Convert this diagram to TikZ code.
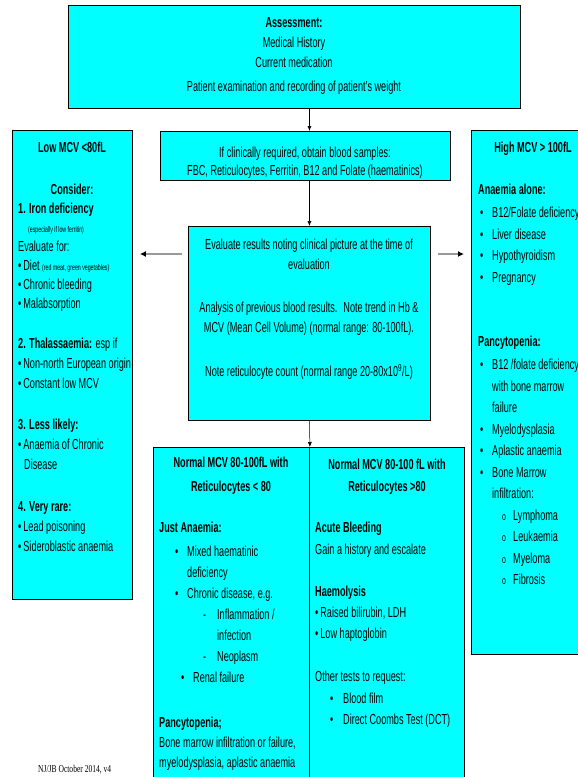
\documentclass[tikz,border=0pt]{standalone}
\usepackage{fontspec}
\setmainfont{Liberation Sans}[FakeStretch=0.63]
\newfontfamily\footfont{Liberation Serif}[FakeStretch=0.72]
\usetikzlibrary{arrows.meta,calc}
\definecolor{boxcyan}{HTML}{00FFFF}
\newcommand{\smalltxt}{\fontsize{8.3}{9}\selectfont}
\newcommand{\smb}{\textbullet\hspace{2pt}}
\newcommand{\hb}{\hspace*{2pt}\makebox[12pt][l]{\textbullet}}
\newcommand{\hc}{\hspace*{14pt}}
\newcommand{\ho}{\hspace*{24pt}\makebox[11pt][l]{\fontsize{11}{11}\selectfont o}}

\begin{document}
\begin{tikzpicture}[x=1pt, y=-1pt,
  box/.style={draw=black, fill=boxcyan, line width=0.9pt, inner sep=0pt, anchor=north west},
  txt/.style={inner sep=0pt, align=left, anchor=north west, font=\fontsize{14.5}{20}\selectfont},
  ctxt/.style={txt, align=center, anchor=north},
  flow/.style={-{Latex[length=5pt,width=4pt]}, line width=0.5pt},
  sidearrow/.style={-{Latex[length=6pt,width=6pt,color=black]}, draw=black!40, line width=2pt}]
  % Page
  \useasboundingbox (0,0) rectangle (578,777);
  \clip (0,0) rectangle (578,777);
  % Boxes
  \node[box, minimum width=452, minimum height=103] (assess) at (68,5) {};
  \node[box, minimum width=290, minimum height=49] (blood) at (160,131) {};
  \node[box, minimum width=120, minimum height=469] (lowmcv) at (12,130) {};
  \node[box, minimum width=242, minimum height=194] (eval) at (188,226) {};
  \node[box, minimum width=124, minimum height=524] (highmcv) at (471,130) {};
  \node[box, minimum width=156, minimum height=360] (normlow) at (153,447) {};
  \node[box, minimum width=155, minimum height=360] (normhigh) at (309,447) {};
  % Assessment and blood samples
  \node[ctxt] (assesstxt) at (294,17) {\textbf{Assessment:}\\Medical History\\Current medication\\[4pt]Patient examination and recording of patient’s weight};
  \node[ctxt] (bloodtxt) at (305,147) {If clinically required, obtain blood samples:\\[-2pt]FBC, Reticulocytes, Ferritin, B12 and Folate (haematinics)};
  % Evaluate results
  \node[ctxt] (evaltxt) at (309,239) {Evaluate results noting clinical picture at the time of\\evaluation\\[23pt]Analysis of previous blood results.~ Note trend in Hb \&\\MCV (Mean Cell Volume) (normal range: 80-100fL).\\[24pt]Note reticulocyte count (normal range 20-80x10\textsuperscript{9}/L)};
  % Low MCV
  \node[ctxt] (lowtitle) at (72,142) {\textbf{Low MCV <80fL}\\[22pt]\textbf{Consider:}};
  \node[txt, font=\fontsize{14.5}{19}\selectfont] (lowiron) at (18,203) {\textbf{1. Iron deficiency}\\
    \hspace*{10pt}{\smalltxt (especially if low ferritin)}\\
    Evaluate for:\\
    \smb Diet {\smalltxt (red meat, green vegetables)}\\
    \smb Chronic bleeding\\
    \smb Malabsorption};
  \node[txt] (lowthal) at (18,338) {\textbf{2. Thalassaemia:} esp if\\ \smb Non-north European origin\\ \smb Constant low MCV};
  \node[txt] (lowless) at (18,419) {\textbf{3. Less likely:}\\ \smb Anaemia of Chronic\\ \hspace*{6pt}Disease};
  \node[txt] (lowrare) at (18,501) {\textbf{4. Very rare:}\\ \smb Lead poisoning\\ \smb Sideroblastic anaemia};
  % High MCV
  \node[ctxt] (hightitle) at (533,142) {\textbf{High MCV > 100fL}};
  \node[txt, font=\fontsize{14.5}{21.5}\selectfont] (highalone) at (478,184) {\textbf{Anaemia alone:}\\[1.5pt]
    \hb B12/Folate deficiency\\ \hb Liver disease\\ \hb Hypothyroidism\\ \hb Pregnancy};
  \node[txt, font=\fontsize{14.5}{21.5}\selectfont] (highpancy) at (478,336) {\textbf{Pancytopenia:}\\[1.5pt]
    \hb B12 /folate deficiency\\ \hc with bone marrow\\ \hc failure\\
    \hb Myelodysplasia\\ \hb Aplastic anaemia\\ \hb Bone Marrow\\ \hc infiltration:\\
    \ho Lymphoma\\ \ho Leukaemia\\ \ho Myeloma\\ \ho Fibrosis};
  % Normal MCV, low reticulocytes
  \node[ctxt] (normlowtitle) at (231,457) {\textbf{Normal MCV 80-100fL with}\\[4pt]\textbf{Reticulocytes < 80}};
  \node[txt, font=\fontsize{14.5}{21}\selectfont] (justanaemia) at (159,522) {\textbf{Just Anaemia:}\\[3pt]
    \hspace*{16pt}\makebox[12pt][l]{\textbullet}Mixed haematinic\\
    \hspace*{28pt}deficiency\\
    \hspace*{16pt}\makebox[12pt][l]{\textbullet}Chronic disease, e.g.\\
    \hspace*{44pt}\makebox[14pt][l]{-}Inflammation /\\
    \hspace*{58pt}infection\\
    \hspace*{44pt}\makebox[14pt][l]{-}Neoplasm\\
    \hspace*{22pt}\makebox[12pt][l]{\textbullet}Renal failure};
  \node[txt] (pancylow) at (159,717) {\textbf{Pancytopenia;}\\Bone marrow infiltration or failure,\\myelodysplasia, aplastic anaemia};
  % Normal MCV, high reticulocytes
  \node[ctxt] (normhightitle) at (387,459) {\textbf{Normal MCV 80-100 fL with}\\[2pt]\textbf{Reticulocytes >80}};
  \node[txt] (acute) at (315,522) {\textbf{Acute Bleeding}\\[2pt]Gain a history and escalate};
  \node[txt, font=\fontsize{14.5}{21}\selectfont] (haemo) at (315,586) {\textbf{Haemolysis}\\ \smb Raised bilirubin, LDH\\ \smb Low haptoglobin};
  \node[txt, font=\fontsize{14.5}{21.5}\selectfont] (othertests) at (315,671) {Other tests to request:\\
    \hspace*{15pt}\makebox[13pt][l]{\textbullet}Blood film\\
    \hspace*{15pt}\makebox[13pt][l]{\textbullet}Direct Coombs Test (DCT)};
  % Footer
  \node[anchor=west, inner sep=0pt, font=\footfont\fontsize{10.5}{12}\selectfont] (footer) at (38,770) {NJ/JB October 2014, v4};
  % Connectors
  \draw[flow] (assess.south -| eval.north) -- (blood.north -| eval.north);
  \draw[flow] (blood.south -| eval.north) -- (eval.north);
  \draw[flow] (eval.south) -- (normlow.north east);
  \draw[sidearrow, shorten <=6pt, shorten >=7pt] (eval.west |- 0,254) -- (lowmcv.east |- 0,254);
  \draw[sidearrow, shorten <=7pt, shorten >=7pt] (eval.east |- 0,254) -- (highmcv.west |- 0,254);
\end{tikzpicture}
\end{document}
